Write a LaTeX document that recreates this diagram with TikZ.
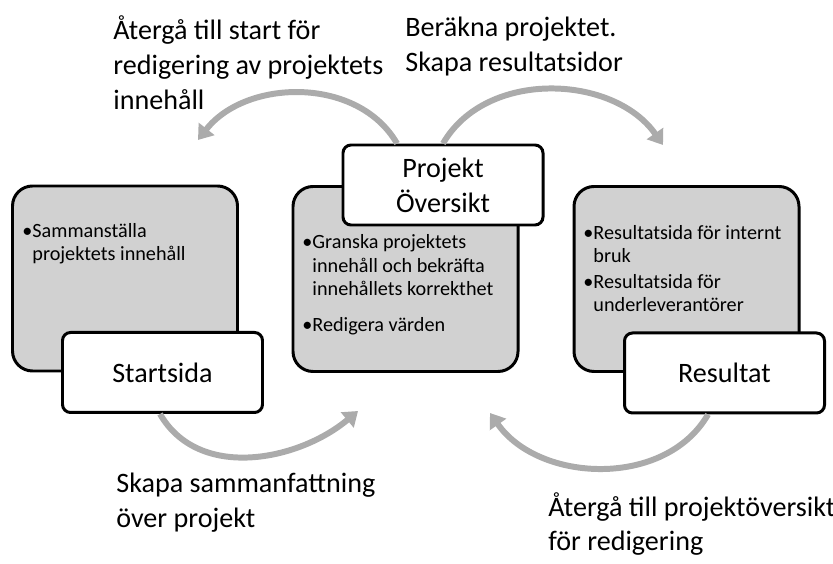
\documentclass[tikz,border=0pt]{standalone}
\usepackage{fontspec}
\setmainfont{Carlito}
\usetikzlibrary{arrows.meta}

\definecolor{ruta}{RGB}{209,209,209}
\definecolor{pilgra}{RGB}{171,171,171}
\newcommand{\indrag}{\phantom{\textbullet}}

\tikzset{
    grabox/.style={draw=black, line width=1.7pt, fill=ruta, rounded corners=0.4cm,
        minimum width=4.5cm, minimum height=3.7cm},
    vitbox/.style={draw=black, line width=1.7pt, fill=white, rounded corners=0.16cm,
        minimum width=4cm, minimum height=1.6cm, align=center,
        font=\fontsize{16}{19.8}\selectfont},
    pil/.style={draw=pilgra, line width=3.4pt, -{Triangle[width=11pt,length=8pt]}},
    etikett/.style={anchor=west, align=left, inner sep=0pt,
        font=\fontsize{16}{19.8}\selectfont},
    punkter/.style={anchor=west, align=left, inner sep=0pt,
        font=\fontsize{11.5}{13.1}\selectfont}
}

\begin{document}
\begin{tikzpicture}
    \useasboundingbox (0,0) rectangle (16.66,11.26);

    % Gray content boxes
    \node[grabox] (startgra) at (2.5,5.69) {};
    \node[grabox] (oversiktgra) at (8.11,5.68) {};
    \node[grabox] (resultatgra) at (13.73,5.68) {};

    % Bullet texts
    \node[punkter] (starttext) at (0.44,6.39)
        {\textbullet Sammanställa\\\indrag projektets innehåll};
    \node[punkter] (oversikttext) at (6.04,5.56)
        {\textbullet Granska projektets\\\indrag innehåll och bekräfta\\\indrag innehållets korrekthet\\[0.27cm]\textbullet Redigera värden};
    \node[punkter] (resultattext) at (11.66,5.89)
        {\textbullet Resultatsida för internt\\\indrag bruk\\[0.06cm]\textbullet Resultatsida för\\\indrag underleverantörer};

    % White title boxes
    \node[vitbox] (start) at ([xshift=0.75cm]startgra.south) {Startsida};
    \node[vitbox] (oversikt) at ([xshift=0.75cm]oversiktgra.north) {Projekt\\Översikt};
    \node[vitbox] (resultat) at ([xshift=0.76cm]resultatgra.south) {Resultat};

    % Arrow ends
    \coordinate (tillstart) at (3.96,8.46);
    \coordinate (tillresultat) at (13.26,8.36);
    \coordinate (tilloversikt) at (7.16,3.04);
    \coordinate (tillbaka) at (9.8,3.0);

    % Curved arrows
    \draw[pil] ([xshift=-0.92cm]oversikt.north) to[out=120, in=52] (tillstart);
    \draw[pil] (oversikt.north) to[out=60, in=125] (tillresultat);
    \draw[pil] ([xshift=-0.05cm]start.south) to[out=-60, in=-140] (tilloversikt);
    \draw[pil] ([xshift=-0.33cm]resultat.south) to[out=-120, in=-55] (tillbaka);

    % Arrow labels
    \node[etikett] (aterstart) at (2.26,10.01)
        {Återgå till start för\\redigering av projektets\\innehåll};
    \node[etikett] (berakna) at (8.1,10.33)
        {Beräkna projektet.\\Skapa resultatsidor};
    \node[etikett] (sammanfattning) at (2.32,1.21)
        {Skapa sammanfattning\\över projekt};
    \node[etikett] (aterprojekt) at (10.96,0.78)
        {Återgå till projektöversikt\\för redigering};
\end{tikzpicture}
\end{document}
